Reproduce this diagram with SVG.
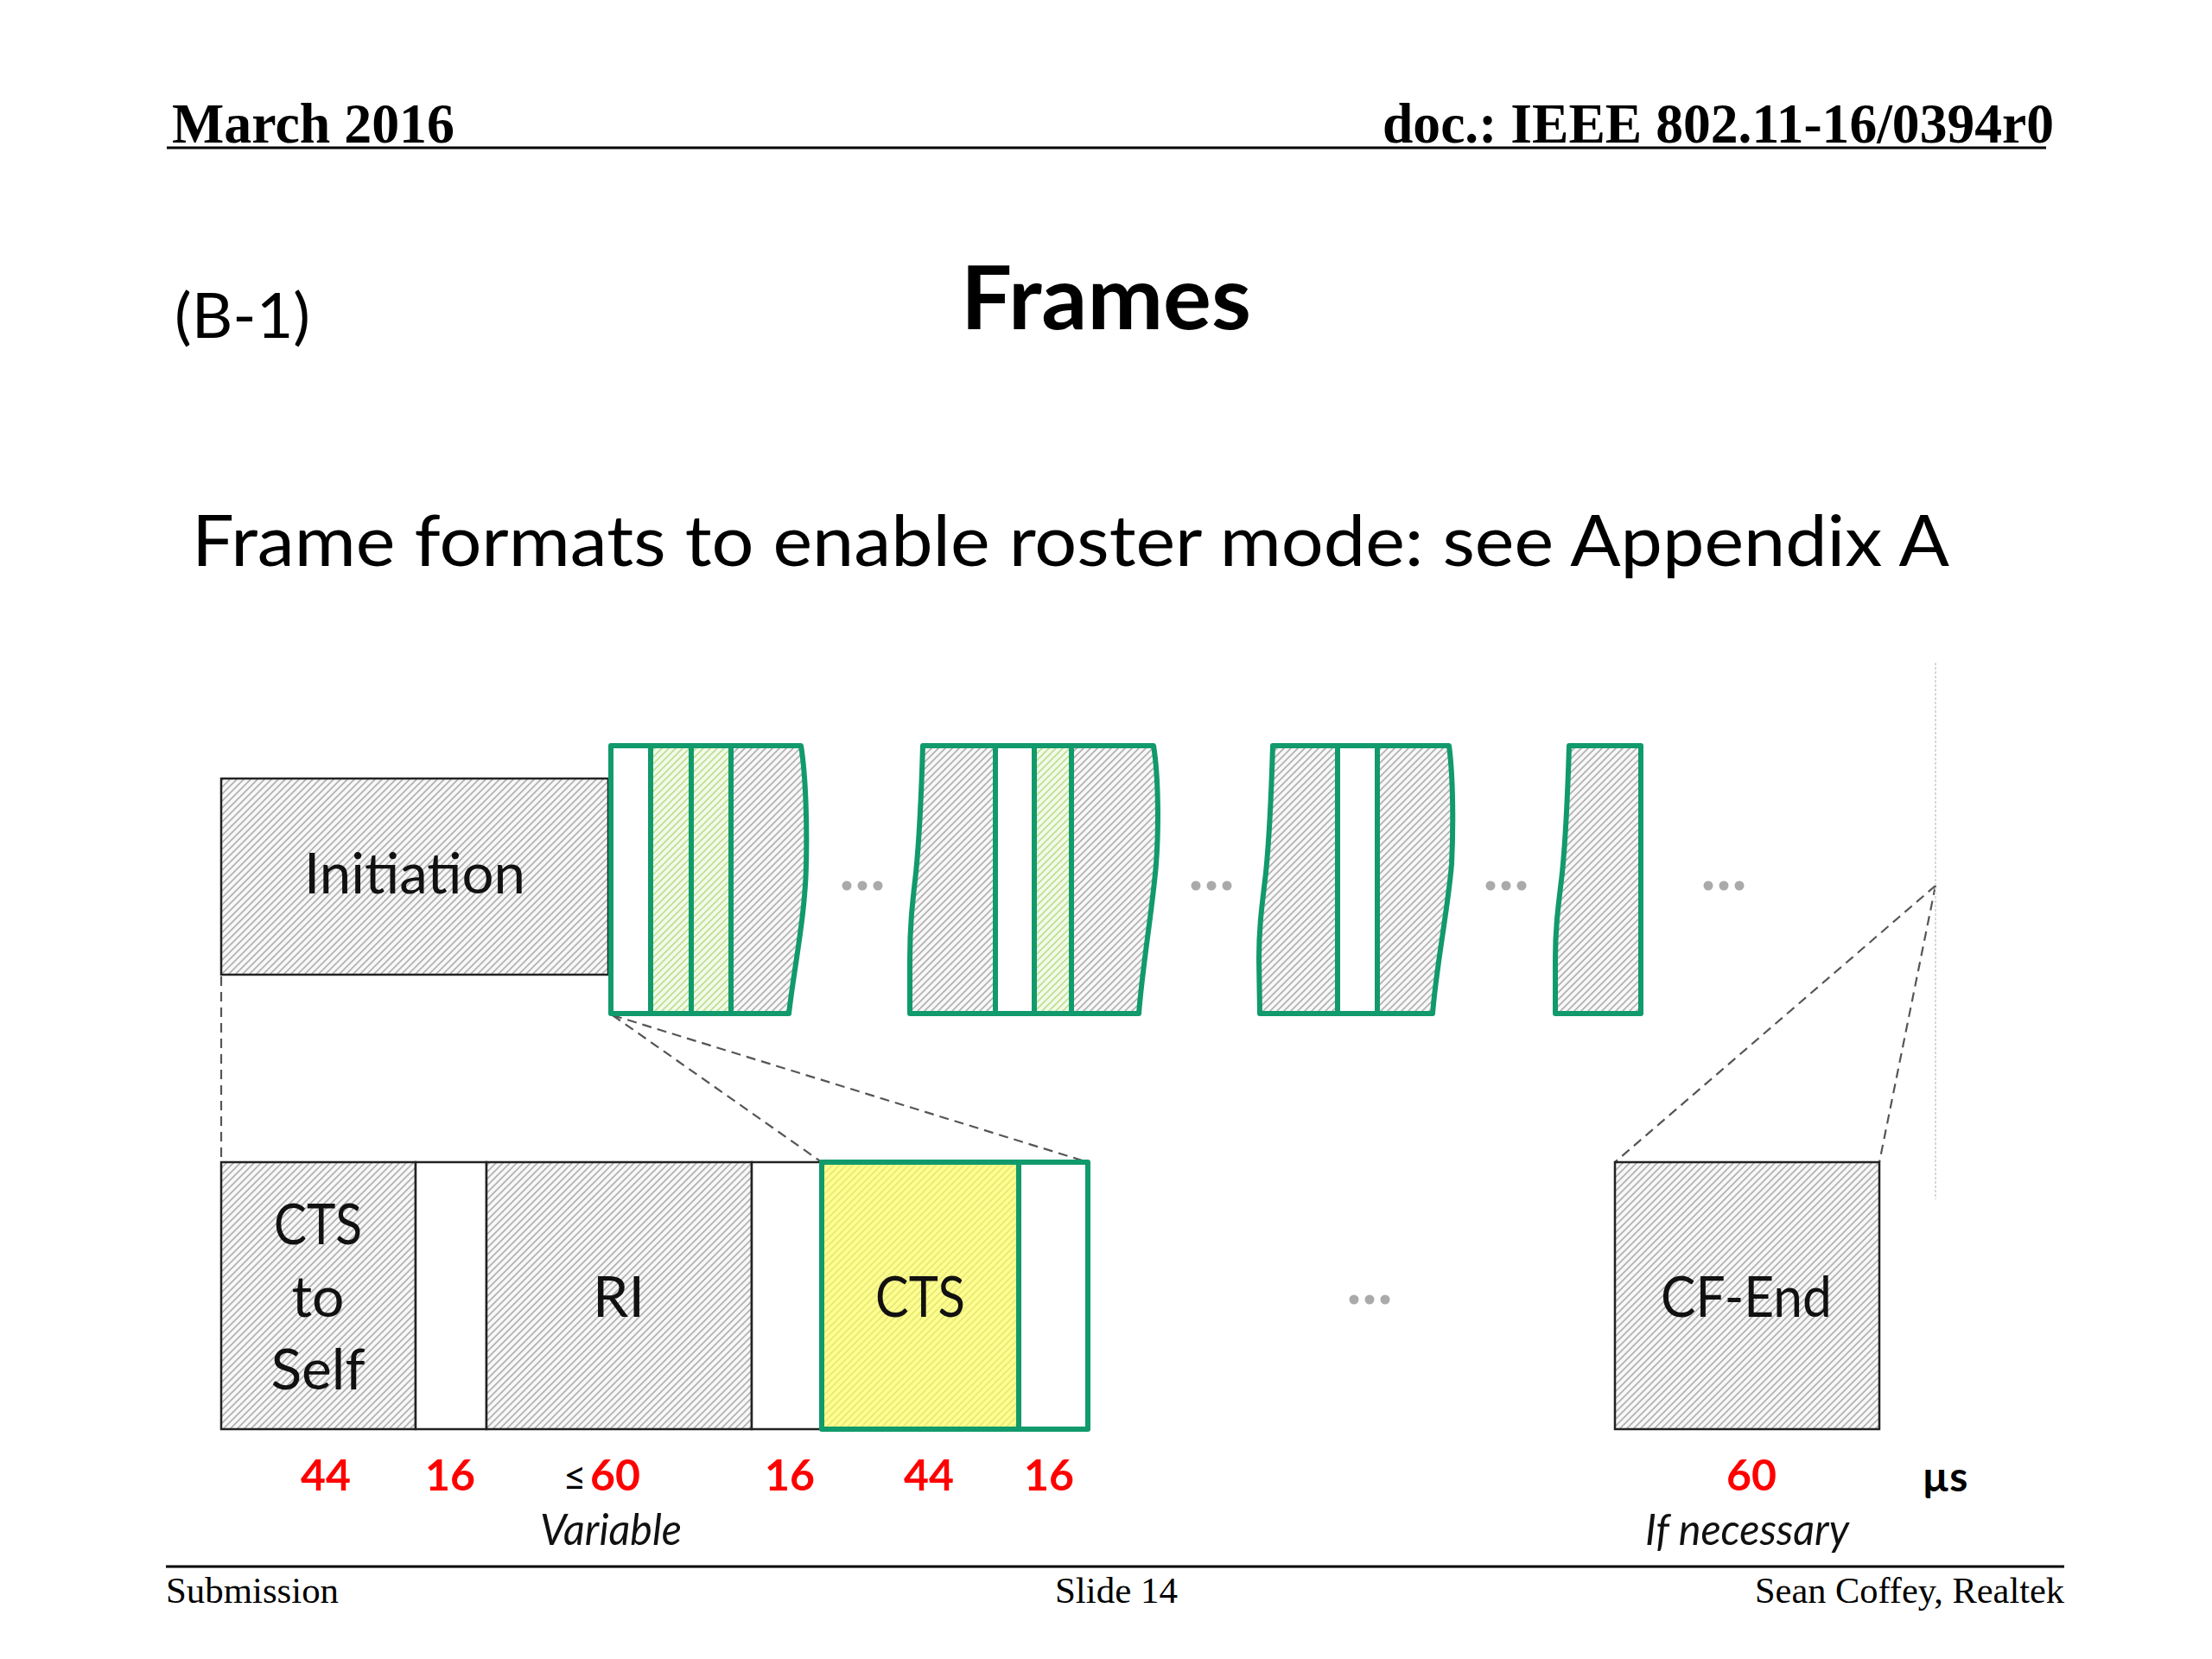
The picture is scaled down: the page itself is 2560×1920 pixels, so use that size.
<svg xmlns="http://www.w3.org/2000/svg" width="2560" height="1920" viewBox="0 0 2560 1920">
<style>
.serifB{font-family:"Liberation Serif","Times New Roman",serif;font-weight:bold;fill:#000}
.serif{font-family:"Liberation Serif","Times New Roman",serif;fill:#000}
.sans{font-family:Lato,"Liberation Sans",Arial,sans-serif;fill:#000}
.lbl{font-family:Lato,"Liberation Sans",Arial,sans-serif;font-size:66px;fill:#111;text-anchor:middle}
.num{font-family:Lato,"Liberation Sans",Arial,sans-serif;font-size:50px;font-weight:bold;fill:#ff0000;text-anchor:middle}
.ital{font-family:Lato,"Liberation Sans",Arial,sans-serif;font-size:50px;font-style:italic;fill:#111;text-anchor:middle}
.grn{fill:none;stroke:#119a6b;stroke-width:6;stroke-linejoin:round}
.gs{stroke:#119a6b;stroke-width:6;stroke-linejoin:round}
.blk{stroke:#222;stroke-width:2.5}
.dash{fill:none;stroke:#555;stroke-width:2.2;stroke-dasharray:11 7}
.dot{fill:#aaaaaa}
</style>
<defs>
<pattern id="hg" width="8" height="8" patternUnits="userSpaceOnUse">
<rect width="8" height="8" fill="#f8f8f8"/>
<path d="M-2,2 L2,-2 M0,8 L8,0 M6,10 L10,6" stroke="#b2b2b2" stroke-width="1.7"/>
</pattern>
<pattern id="hgreen" width="8" height="8" patternUnits="userSpaceOnUse">
<rect width="8" height="8" fill="#f3faea"/>
<path d="M-2,2 L2,-2 M0,8 L8,0 M6,10 L10,6" stroke="#bde091" stroke-width="1.7"/>
</pattern>
<pattern id="hy" width="8" height="8" patternUnits="userSpaceOnUse">
<rect width="8" height="8" fill="#ffff8c"/>
<path d="M-2,2 L2,-2 M0,8 L8,0 M6,10 L10,6" stroke="#e6e680" stroke-width="1.6"/>
</pattern>
<path id="o1" d="M707,863 L927,863 C933,900 934,960 933,1000 C932,1060 919,1120 913,1173 L707,1173 Z"/>
<path id="o2" d="M1068,863 L1335,863 C1341,900 1341,960 1338,1000 C1334,1050 1322,1120 1318,1173 L1053,1173 L1053,1110 C1053,1070 1056,1045 1060,1010 C1064,970 1066,930 1068,863 Z"/>
<path id="o3" d="M1473,863 L1677,863 C1682,900 1682,960 1680,1000 C1676,1050 1662,1120 1658,1173 L1458,1173 L1457,1110 C1457,1070 1461,1045 1465,1010 C1469,970 1471,930 1473,863 Z"/>
<path id="o4" d="M1816,863 L1899,863 L1899,1173 L1800,1173 L1800,1110 C1800,1070 1804,1045 1808,1010 C1812,970 1814,930 1816,863 Z"/>
<clipPath id="c1"><use href="#o1"/></clipPath>
<clipPath id="c2"><use href="#o2"/></clipPath>
<clipPath id="c3"><use href="#o3"/></clipPath>
</defs>

<rect width="2560" height="1920" fill="#ffffff"/>

<g id="header">
<text class="serifB" x="199" y="165" font-size="66" textLength="327" lengthAdjust="spacingAndGlyphs">March 2016</text>
<text class="serifB" x="2377" y="165" font-size="66" text-anchor="end" textLength="777" lengthAdjust="spacingAndGlyphs">doc.: IEEE 802.11-16/0394r0</text>
<line x1="193" y1="171" x2="2368" y2="171" stroke="#000" stroke-width="3"/>
</g>

<g id="titles">
<text class="sans" x="202" y="391" font-size="71" textLength="157" lengthAdjust="spacingAndGlyphs">(B-1)</text>
<text class="sans" x="1280" y="381" font-size="102" font-weight="bold" text-anchor="middle" textLength="336" lengthAdjust="spacingAndGlyphs">Frames</text>
<text class="sans" x="222" y="655" font-size="81" textLength="2034" lengthAdjust="spacingAndGlyphs">Frame formats to enable roster mode: see Appendix A</text>
</g>

<g id="connectors">
<line class="dash" x1="256" y1="1130" x2="256" y2="1345"/>
<line class="dash" x1="709" y1="1175" x2="951" y2="1345"/>
<line class="dash" x1="709" y1="1175" x2="1259" y2="1345"/>
<line class="dash" x1="2240" y1="1025" x2="1869" y2="1345"/>
<line class="dash" x1="2240" y1="1025" x2="2175" y2="1345"/>
<line x1="2240" y1="767" x2="2240" y2="1388" stroke="#d8d8d8" stroke-width="2" stroke-dasharray="3 2"/>
</g>

<g id="initiation">
<rect x="256" y="901" width="448" height="227" fill="url(#hg)" class="blk"/>
<text class="lbl" x="480" y="1034" textLength="256" lengthAdjust="spacingAndGlyphs">Initiation</text>
</g>

<g id="frame-group-1">
<g clip-path="url(#c1)">
<rect x="700" y="860" width="53" height="320" fill="#ffffff"/>
<rect x="753" y="860" width="92" height="320" fill="url(#hgreen)"/>
<rect x="845" y="860" width="100" height="320" fill="url(#hg)"/>
</g>
<use href="#o1" class="grn"/>
<line class="grn" x1="753" y1="863" x2="753" y2="1173"/>
<line class="grn" x1="800" y1="863" x2="800" y2="1173"/>
<line class="grn" x1="846" y1="863" x2="846" y2="1173"/>
</g>

<g id="frame-group-2">
<g clip-path="url(#c2)">
<rect x="1040" y="860" width="112" height="320" fill="url(#hg)"/>
<rect x="1152" y="860" width="45" height="320" fill="#ffffff"/>
<rect x="1197" y="860" width="43" height="320" fill="url(#hgreen)"/>
<rect x="1240" y="860" width="110" height="320" fill="url(#hg)"/>
</g>
<use href="#o2" class="grn"/>
<line class="grn" x1="1152" y1="863" x2="1152" y2="1173"/>
<line class="grn" x1="1197" y1="863" x2="1197" y2="1173"/>
<line class="grn" x1="1240" y1="863" x2="1240" y2="1173"/>
</g>

<g id="frame-group-3">
<g clip-path="url(#c3)">
<rect x="1440" y="860" width="108" height="320" fill="url(#hg)"/>
<rect x="1548" y="860" width="46" height="320" fill="#ffffff"/>
<rect x="1594" y="860" width="100" height="320" fill="url(#hg)"/>
</g>
<use href="#o3" class="grn"/>
<line class="grn" x1="1548" y1="863" x2="1548" y2="1173"/>
<line class="grn" x1="1594" y1="863" x2="1594" y2="1173"/>
</g>

<g id="frame-group-4">
<use href="#o4" fill="url(#hg)" class="gs"/>
</g>

<g id="ellipses">
<circle class="dot" cx="980" cy="1025" r="5.5"/><circle class="dot" cx="998" cy="1025" r="5.5"/><circle class="dot" cx="1016" cy="1025" r="5.5"/>
<circle class="dot" cx="1384" cy="1025" r="5.5"/><circle class="dot" cx="1402" cy="1025" r="5.5"/><circle class="dot" cx="1420" cy="1025" r="5.5"/>
<circle class="dot" cx="1725" cy="1025" r="5.5"/><circle class="dot" cx="1743" cy="1025" r="5.5"/><circle class="dot" cx="1761" cy="1025" r="5.5"/>
<circle class="dot" cx="1977" cy="1025" r="5.5"/><circle class="dot" cx="1995" cy="1025" r="5.5"/><circle class="dot" cx="2013" cy="1025" r="5.5"/>
<circle class="dot" cx="1567" cy="1504" r="5.5"/><circle class="dot" cx="1585" cy="1504" r="5.5"/><circle class="dot" cx="1603" cy="1504" r="5.5"/>
</g>

<g id="cts-to-self">
<rect x="256" y="1345" width="225" height="309" fill="url(#hg)" class="blk"/>
<text class="lbl" x="368" y="1440" textLength="102" lengthAdjust="spacingAndGlyphs">CTS</text>
<text class="lbl" x="368" y="1524">to</text>
<text class="lbl" x="368" y="1608">Self</text>
</g>
<g id="gap-1"><rect x="481" y="1345" width="82" height="309" fill="#ffffff" class="blk"/></g>
<g id="ri">
<rect x="563" y="1345" width="307" height="309" fill="url(#hg)" class="blk"/>
<text class="lbl" x="716" y="1524">RI</text>
</g>
<g id="gap-2"><rect x="870" y="1345" width="81" height="309" fill="#ffffff" class="blk"/></g>
<g id="cts">
<rect x="951" y="1345" width="228" height="309" fill="url(#hy)" class="gs"/>
<text class="lbl" x="1065" y="1524" textLength="104" lengthAdjust="spacingAndGlyphs">CTS</text>
</g>
<g id="gap-3"><rect x="1179" y="1345" width="80" height="309" fill="#ffffff" class="gs"/></g>
<g id="cf-end">
<rect x="1869" y="1345" width="306" height="309" fill="url(#hg)" class="blk"/>
<text class="lbl" x="2021" y="1524" textLength="198" lengthAdjust="spacingAndGlyphs">CF-End</text>
</g>

<g id="durations">
<text class="num" x="377" y="1725">44</text>
<text class="num" x="521" y="1725">16</text>
<text class="sans" x="665" y="1725" font-size="46" text-anchor="middle" fill="#333">≤</text>
<text class="num" x="712" y="1725">60</text>
<text class="num" x="914" y="1725">16</text>
<text class="num" x="1075" y="1725">44</text>
<text class="num" x="1214" y="1725">16</text>
<text class="num" x="2027" y="1725">60</text>
<text class="sans" x="2251" y="1726" font-size="48" font-weight="bold" text-anchor="middle">µs</text>
<text class="ital" x="707" y="1788" textLength="164" lengthAdjust="spacingAndGlyphs">Variable</text>
<text class="ital" x="2022" y="1788" textLength="236" lengthAdjust="spacingAndGlyphs">If necessary</text>
</g>

<g id="footer">
<line x1="192" y1="1813" x2="2389" y2="1813" stroke="#000" stroke-width="3"/>
<text class="serif" x="192" y="1855" font-size="43" textLength="200" lengthAdjust="spacingAndGlyphs">Submission</text>
<text class="serif" x="1292" y="1855" font-size="43" text-anchor="middle">Slide 14</text>
<text class="serif" x="2389" y="1855" font-size="43" text-anchor="end" textLength="358" lengthAdjust="spacingAndGlyphs">Sean Coffey, Realtek</text>
</g>
</svg>
